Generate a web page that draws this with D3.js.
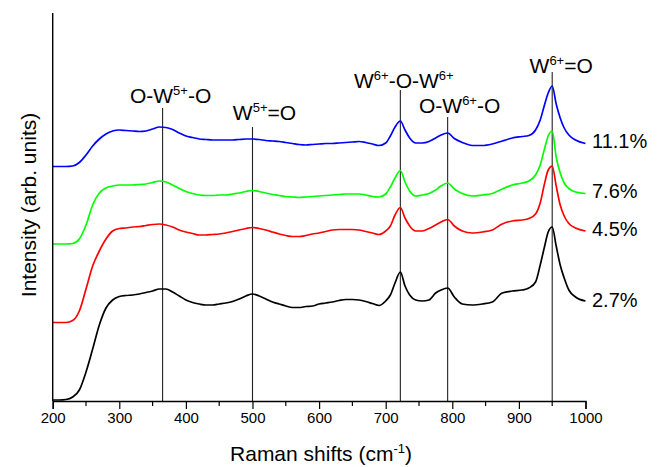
<!DOCTYPE html>
<html lang="en">
<head>
<meta charset="UTF-8">
<title>Raman spectra</title>
<script src="https://d3js.org/d3.v7.min.js"></script>
<style>
    body { margin: 0; background: #fff; }
    svg text { font-family: "Liberation Sans", Arial, Helvetica, sans-serif; fill: #000; }
</style>
</head>
<body>
<svg id="chart" width="664" height="467"></svg>
<script>
// Raman shift (cm-1) sample positions
var shifts = [200,210,220,230,240,250,260,270,280,290,300,310,320,330,340,350,360,370,380,390,
    400,410,420,430,440,450,460,470,480,490,500,510,520,530,540,550,560,570,580,590,
    600,610,620,630,640,650,660,670,680,690,700,707,714,722,729,736,745,755,765,775,
    783,793,803,815,830,845,860,875,890,905,915,925,932,938,944,950,956,962,968,975,985,1000];

// intensities (arb. units, already stacked as in the figure)
var s27 = [1,1,1.5,4,11,29,52,76,93,101,104.5,105.5,106,107,108.5,110,112,112,109,105,
    101,98.5,97,96,96,97,98,99.5,102,105,107,105,102,99,97,95,93.5,93.5,94.5,95,
    97,98,99,100.5,101.5,101.5,101,99.5,97.5,95.5,100,106,118,129,115,106,101,100,101,108,
    111,113,104,97,96,97,99,108,110,111,113,119,136,153,169,174,155,136,123,111,104,100];
var s45 = [78.5,78.5,78.5,80.5,90,112,135,150,162,170,172.5,173,174,174.5,175.5,176.5,177,176,174,171,
    169,167.5,166,166,166.5,167,168,169.5,171,172.5,173.5,172.5,171,169,167,165.5,164.5,164.5,165.5,167,
    168,169.5,171,171.5,171.5,171.5,171,169.5,168,166.5,170,175,186,193.5,183,175,170,170,172.5,176,
    179,181.5,175,170,168,169,171,177,180,181,182.5,187,198,216,231,235,215,196,185,177.5,173,170];
var s76 = [157,157,157,157.5,162,176,196,208,213,215,216,216,216,216.5,217,218.5,220,219,216,212.5,
    209.5,207.5,206,205.5,205.5,206,206,207,208,209.5,210.5,209.5,208,206.5,205.5,204.5,204,203.5,204,204.5,
    205,205.5,206,206.5,207,207,207,206,204.5,204,207,214,223,230.5,219,210,205,206,207.5,211,
    215,218,212,207.5,205,206,207.5,212,216,218,220,226,236,251,265,270,244,228,218,212.5,209,207.5];
var s111 = [234.5,234.5,234.5,235,238.5,246,255,262,267,270,271,270.5,270,269.5,270,272,274,273.5,271.5,268,
    265,263.5,262,261.5,261,261,261,261,261.5,262,262,261.5,260.5,260,259.5,258.5,257.5,256.5,256,256.5,
    257,257.5,257.5,258,258.5,259,259.5,258.5,257,255.5,258,265,274,280,271,263,258,258,259.5,263,
    266,268,262.5,258.5,255.5,255.5,257,260,263,264.5,265.5,271,281,295,308,315,297,283,273,266,261,257.5];

var seriesNames = ["2.7%", "4.5%", "7.6%", "11.1%"];
var seriesColors = ["#000000", "#ff0000", "#00ff00", "#0000ff"];
var seriesData = [s27, s45, s76, s111];
var labelLevel = [94, 165, 203, 253];   // intensity at which the % label sits

// band assignments
var bandPos = [365, 500, 722, 793, 950];
var bandTop = [293, 274, 311, 284, 329];
var bandName = [["O-W", "5+", "-O"], ["W", "5+", "=O"], ["W", "6+", "-O-W", "6+", ""], ["O-W", "6+", "-O"], ["W", "6+", "=O"]];

var xTicks = [200, 300, 400, 500, 600, 700, 800, 900, 1000];

var svg = d3.select("#chart");
var pLeft = 52.7, pRight = 585.5, pTop = 13, pBottom = 401;

var x = d3.scaleLinear().domain([200, 1000]).range([pLeft, pRight]);
var y = d3.scaleLinear().domain([0, 388]).range([pBottom, pTop]);

// band lines
svg.selectAll(".band")
    .data(bandPos)
    .enter().append("line")
    .attr("class", "band")
    .attr("x1", function(d) { return x(d); })
    .attr("x2", function(d) { return x(d); })
    .attr("y1", y(0))
    .attr("y2", function(d, i) { return y(bandTop[i]); })
    .attr("stroke", "#222")
    .attr("stroke-width", 1.1);

// spectra
var line = d3.line()
    .x(function(d, i) { return x(shifts[i]); })
    .y(function(d) { return y(d); })
    .curve(d3.curveMonotoneX);

svg.selectAll(".spec")
    .data(seriesData)
    .enter().append("path")
    .attr("class", "spec")
    .attr("d", line)
    .attr("fill", "none")
    .attr("stroke", function(d, i) { return seriesColors[i]; })
    .attr("stroke-width", 1.7)
    .attr("stroke-linejoin", "round");

// x axis
var xAxis = svg.append("g")
    .attr("transform", "translate(0," + pBottom + ")")
    .call(d3.axisBottom(x).tickValues(xTicks).tickSize(8).tickPadding(3).tickFormat(d3.format("d")));
xAxis.select(".domain").attr("stroke-width", 1.4);
xAxis.selectAll(".tick line").attr("stroke-width", 1.2);
xAxis.selectAll(".tick text")
    .style("font-family", "'Liberation Sans', Arial, sans-serif")
    .style("font-size", "15px");

// minor ticks
svg.append("g")
    .attr("transform", "translate(0," + pBottom + ")")
    .selectAll("line")
    .data(d3.range(250, 1000, 100))
    .enter().append("line")
    .attr("x1", function(d) { return x(d); })
    .attr("x2", function(d) { return x(d); })
    .attr("y1", 0)
    .attr("y2", 5)
    .attr("stroke", "#000")
    .attr("stroke-width", 1.2);

// y axis line only
svg.append("line")
    .attr("x1", pLeft).attr("x2", pLeft)
    .attr("y1", pTop).attr("y2", pBottom)
    .attr("stroke", "#000")
    .attr("stroke-width", 1.4);

// band labels
var labelShift = [8, 12, 3.5, 12, 9];
var labelGap = [5, 7, 2, 4, -1];
bandName.forEach(function(parts, i) {
    var t = svg.append("text")
        .attr("x", x(bandPos[i]) + labelShift[i])
        .attr("y", y(bandTop[i]) - labelGap[i])
        .attr("text-anchor", "middle")
        .style("font-size", "21px");
    parts.forEach(function(p, j) {
        var sup = j % 2 == 1;
        t.append("tspan")
            .attr("dy", sup ? -8 : (j > 0 ? 8 : 0))
            .style("font-size", sup ? "13px" : "21px")
            .text(p);
    });
});

// concentration labels
svg.selectAll(".pct")
    .data(seriesNames)
    .enter().append("text")
    .attr("class", "pct")
    .attr("x", 592)
    .attr("y", function(d, i) { return y(labelLevel[i]); })
    .style("font-size", "20px")
    .text(function(d) { return d; });

// axis titles
var xt = svg.append("text")
    .attr("x", 321)
    .attr("y", 461)
    .attr("text-anchor", "middle")
    .style("font-size", "21px");
xt.append("tspan").text("Raman shifts (cm");
xt.append("tspan").attr("dy", -8).style("font-size", "13px").text("-1");
xt.append("tspan").attr("dy", 8).text(")");

svg.append("text")
    .attr("transform", "translate(36," + 205 + ") rotate(-90)")
    .attr("text-anchor", "middle")
    .style("font-size", "21px")
    .text("Intensity (arb. units)");
</script>
</body>
</html>
